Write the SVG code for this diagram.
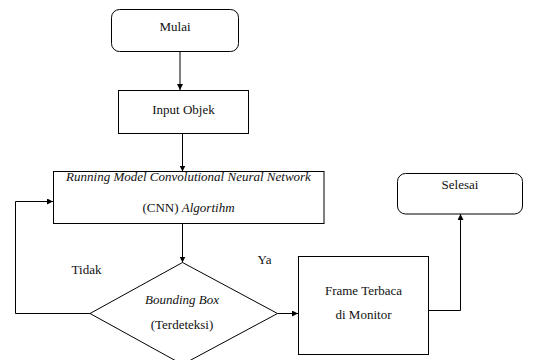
<svg xmlns="http://www.w3.org/2000/svg" width="541" height="360" viewBox="0 0 541 360" font-family="Liberation Serif, DejaVu Serif, serif">
<defs>
<marker id="ah" markerWidth="6" markerHeight="6" refX="6" refY="3" orient="auto" markerUnits="userSpaceOnUse">
<path d="M0,0 L6,3 L0,6 Z" fill="#000"/>
</marker>
<style>
.box{fill:#fff;stroke:#000;stroke-width:1}
text{font-family:'Liberation Serif','DejaVu Serif',serif;font-size:13px;fill:#111;text-anchor:middle}
.i{font-style:italic}
.c{fill:none;stroke:#000;stroke-width:1;marker-end:url(#ah)}
</style>
</defs>
<rect width="541" height="360" fill="#fff"/>
<g id="connectors">
<path class="c" d="M180,51.5 V90"/>
<path class="c" d="M182.5,133.5 V171.5"/>
<path class="c" d="M182.5,223.5 V262.5"/>
<path class="c" d="M90,313.5 H15.5 V201.5 H53"/>
<path class="c" d="M277.5,313.5 H298"/>
<path class="c" d="M428.5,310.5 H460.5 V214"/>
</g>
<g id="mulai">
<rect class="box" x="111.5" y="9.5" width="127" height="42" rx="8"/>
<text x="175" y="31">Mulai</text>
</g>
<g id="input">
<rect class="box" x="118.5" y="90.5" width="130" height="43"/>
<text x="183.5" y="114">Input Objek</text>
</g>
<g id="cnn">
<rect class="box" x="53.5" y="171.5" width="270.5" height="52"/>
<text x="188.5" y="181"><tspan class="i">Running Model Convolutional Neural Network</tspan></text>
<text x="188.5" y="212">(CNN) <tspan class="i">Algortihm</tspan></text>
</g>
<g id="decision">
<polygon class="box" points="182.5,262.5 277.5,313.5 182.5,364.5 90,313.5"/>
<text class="i" x="182" y="304">Bounding Box</text>
<text x="182" y="329">(Terdeteksi)</text>
</g>
<g id="frame">
<rect class="box" x="298.5" y="256.5" width="130" height="98"/>
<text x="363.5" y="295">Frame Terbaca</text>
<text x="363.5" y="319">di Monitor</text>
</g>
<g id="selesai">
<rect class="box" x="397.5" y="173.5" width="125" height="40.5" rx="8"/>
<text x="460" y="189">Selesai</text>
</g>
<g id="labels">
<text x="86.5" y="274">Tidak</text>
<text x="264.5" y="263.5">Ya</text>
</g>
</svg>
